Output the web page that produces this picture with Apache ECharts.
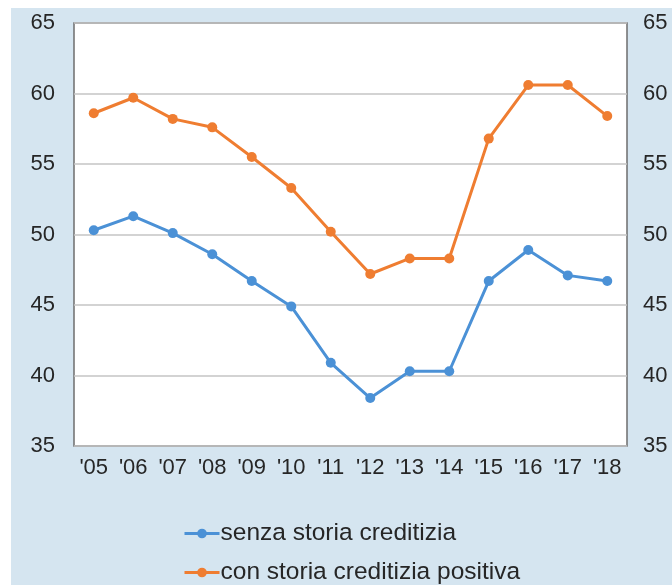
<!DOCTYPE html>
<html>
<head>
<meta charset="utf-8">
<script src="https://cdn.jsdelivr.net/npm/echarts@6/dist/echarts.min.js"></script>
<style>
    html, body { margin: 0; padding: 0; background: #fff; }
    #chart { position: absolute; left: 11px; top: 8px; width: 661px; height: 577px; }
</style>
</head>
<body>
<div id="chart"></div>
<script>
// anni e valori
var anni = ["'05", "'06", "'07", "'08", "'09", "'10", "'11", "'12", "'13", "'14", "'15", "'16", "'17", "'18"];
var senzaStoria = [50.3, 51.3, 50.1, 48.6, 46.7, 44.9, 40.9, 38.4, 40.3, 40.3, 46.7, 48.9, 47.1, 46.7];
var conStoria = [58.6, 59.7, 58.2, 57.6, 55.5, 53.3, 50.2, 47.2, 48.3, 48.3, 56.8, 60.6, 60.6, 58.4];
var nomi = ['senza storia creditizia', 'con storia creditizia positiva'];

var font = "'Liberation Sans', Arial, sans-serif";
var chart = echarts.init(document.getElementById('chart'));

var asseY = function(pos) {
    return {
        type: 'value',
        position: pos,
        min: 35,
        max: 65,
        interval: 5,
        axisLine: { show: false },
        axisTick: { show: false },
        axisLabel: { color: '#262626', fontSize: 22, fontFamily: font, margin: pos == 'left' ? 19 : 16 },
        splitLine: { show: pos == 'left', lineStyle: { color: '#c4c4c4', width: 1.5 } }
    };
};

// una legenda per riga, una sotto l'altra
var legenda = function(nome, top) {
    return {
        left: 172,
        top: top,
        padding: 0,
        itemWidth: 35,
        itemHeight: 12,
        lineStyle: { width: 3 },
        textStyle: { color: '#262626', fontSize: 24.5, lineHeight: 24, fontFamily: font, padding: [0, 0, 0, -4] },
        data: [nome]
    };
};

chart.setOption({
    backgroundColor: '#d5e5f0',
    grid: {
        left: 63, right: 45, top: 15, bottom: 139,
        show: true,
        backgroundColor: '#fff',
        borderColor: '#6e6e6e',
        borderWidth: 1.5
    },
    legend: [legenda(nomi[0], 513), legenda(nomi[1], 552)],
    xAxis: {
        type: 'category',
        data: anni,
        boundaryGap: true,
        axisLine: { show: false },
        axisTick: { show: false },
        axisLabel: { color: '#262626', fontSize: 22, fontFamily: font, margin: 11, interval: 0 }
    },
    yAxis: [asseY('left'), asseY('right')],
    series: [{
        name: nomi[0],
        type: 'line',
        data: senzaStoria,
        symbol: 'circle',
        symbolSize: 10,
        color: '#4b91d6',
        lineStyle: { width: 3 }
    }, {
        name: nomi[1],
        type: 'line',
        data: conStoria,
        symbol: 'circle',
        symbolSize: 10,
        color: '#ef7d31',
        lineStyle: { width: 3 }
    }]
});
</script>
</body>
</html>
